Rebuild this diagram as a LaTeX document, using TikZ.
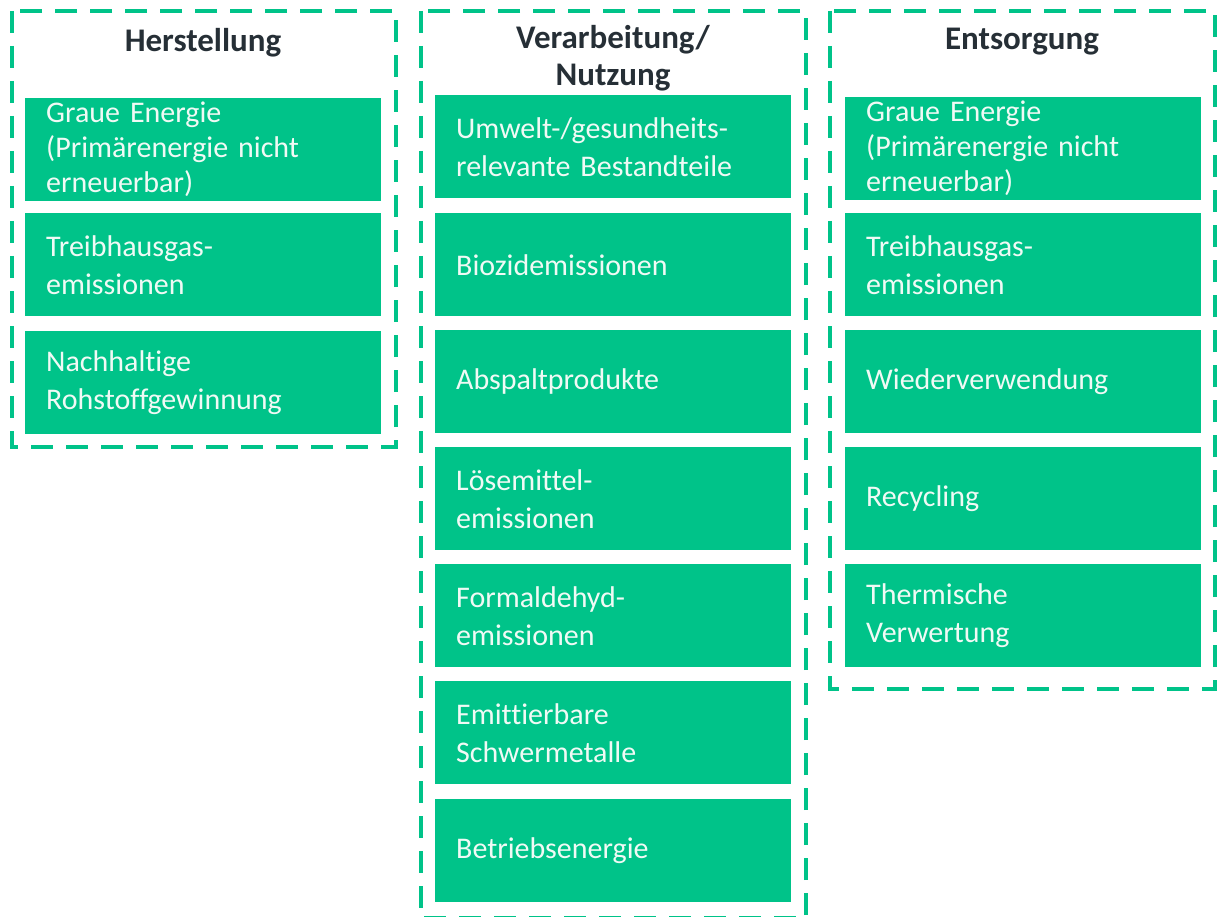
\documentclass[tikz,border=0pt]{standalone}
\usepackage{fontspec}
\setmainfont{Carlito}[Ligatures={CommonOff, ContextualOff}, WordSpace=0.8]
\usetikzlibrary{positioning}
\definecolor{leafgreen}{RGB}{0,195,137}
\definecolor{headink}{RGB}{38,47,54}
\definecolor{paleink}{RGB}{240,250,245}

\tikzset{
  frame/.style={draw=leafgreen, line width=4pt, dash pattern=on 22pt off 13pt},
  item/.style={fill=leafgreen, text=paleink, anchor=north west,
    minimum width=356pt, minimum height=103pt, text width=314pt,
    inner xsep=21pt, inner ysep=0pt, align=left,
    font=\fontsize{30}{38}\selectfont},
  tight/.style={font=\fontsize{30}{35}\selectfont},
  head/.style={text=headink, align=center, font=\bfseries\fontsize{33}{37}\selectfont},
}

\begin{document}
\begin{tikzpicture}[x=1pt, y=-1pt]
  \useasboundingbox (0,0) rectangle (1217,917);

  % Phases
  \draw[frame] (12,11) rectangle (396,447);
  \draw[frame] (421,11) rectangle (806,918);
  \draw[frame] (830,11) rectangle (1215,689);

  \node[head] (herst) at (203,43) {Herstellung};
  \node[head] (nutz) at (613,58) {Verarbeitung/\\Nutzung};
  \node[head] (entsg) at (1022,42) {Entsorgung};

  % Herstellung
  \node[item, tight] (hgrau) at (25,98) {Graue Energie\\(Primärenergie nicht\\erneuerbar)};
  \node[item] (hthg) at (25,213) {Treibhausgas-\\emissionen};
  \node[item] (hroh) at (25,331) {Nachhaltige\\Rohstoffgewinnung};

  % Verarbeitung / Nutzung
  \node[item] (numwelt) at (435,95) {Umwelt-/gesundheits-\\relevante Bestandteile};
  \node[item] (nbiozid) at (435,213) {Biozidemissionen};
  \node[item] (nabsp) at (435,330) {Abspaltprodukte};
  \node[item] (nloes) at (435,447) {Lösemittel-\\emissionen};
  \node[item] (nform) at (435,564) {Formaldehyd-\\emissionen};
  \node[item] (nmetall) at (435,681) {Emittierbare\\Schwermetalle};
  \node[item] (nbetr) at (435,799) {Betriebsenergie};

  % Entsorgung
  \node[item, tight] (egrau) at (845,97) {Graue Energie\\(Primärenergie nicht\\erneuerbar)};
  \node[item] (ethg) at (845,213) {Treibhausgas-\\emissionen};
  \node[item] (ewieder) at (845,330) {Wiederverwendung};
  \node[item] (erecyc) at (845,447) {Recycling};
  \node[item] (etherm) at (845,564) {Thermische\\Verwertung};
\end{tikzpicture}
\end{document}
